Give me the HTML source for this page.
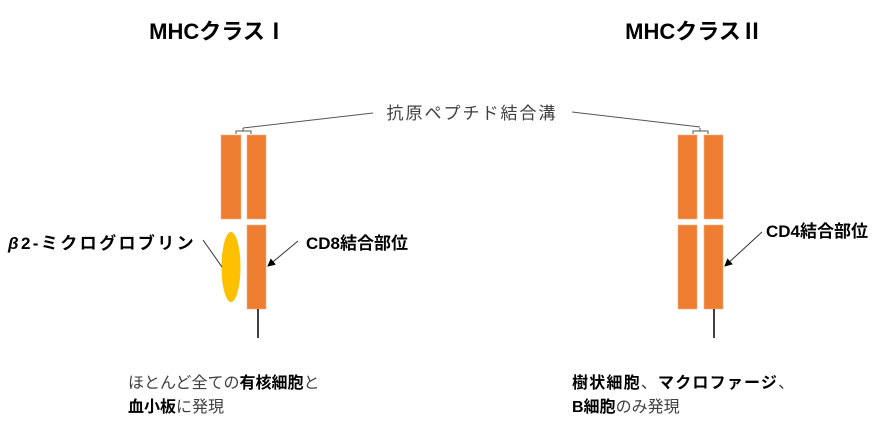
<!DOCTYPE html>
<html><head><meta charset="utf-8"><style>
html,body{margin:0;padding:0;background:#fff;}
svg{display:block;}
text{font-family:"Liberation Sans","Noto Sans CJK JP",sans-serif;}
.b{font-weight:bold;fill:#000;}
.n{fill:#404040;}
</style></head><body>
<svg width="894" height="426" viewBox="0 0 894 426" xmlns="http://www.w3.org/2000/svg">
<defs><marker id="ar" markerWidth="8" markerHeight="8" refX="7" refY="4" orient="auto" markerUnits="userSpaceOnUse"><path d="M0,0 L8,4 L0,8 z" fill="#000"/></marker></defs>
<text x="218" y="39" class="b" font-size="22" text-anchor="middle">MHCクラスⅠ</text>
<text x="694" y="39" class="b" font-size="22" text-anchor="middle">MHCクラスⅡ</text>
<text x="472" y="119" class="n" font-size="17" text-anchor="middle" letter-spacing="2">抗原ペプチド結合溝</text>
<polyline points="373,113 243,128" fill="none" stroke="#555" stroke-width="1"/>
<polyline points="572,112 700,127" fill="none" stroke="#555" stroke-width="1"/>
<path d="M236,134 v-3 h7 v-3 v3 h8 v3" fill="none" stroke="#555" stroke-width="1"/>
<path d="M693,134 v-3 h7 v-3 v3 h8 v3" fill="none" stroke="#555" stroke-width="1"/>
<g fill="#ED7D31" stroke="#F4B183" stroke-width="0.6">
<rect x="221" y="135" width="20" height="84"/>
<rect x="247" y="135" width="19" height="84"/>
<rect x="247" y="225" width="19" height="84"/>
<rect x="678" y="135" width="19" height="84"/>
<rect x="704" y="135" width="19" height="84"/>
<rect x="678" y="225" width="19" height="84"/>
<rect x="704" y="225" width="19" height="84"/>
</g>
<ellipse cx="231" cy="267" rx="9.5" ry="35" fill="#FFC000"/>
<line x1="258" y1="309" x2="258" y2="338" stroke="#000" stroke-width="1.5"/>
<line x1="714" y1="309" x2="714" y2="338" stroke="#000" stroke-width="1.5"/>
<line x1="203" y1="240" x2="222" y2="267" stroke="#333" stroke-width="1"/>
<line x1="298" y1="241" x2="268" y2="266" stroke="#333" stroke-width="1" marker-end="url(#ar)"/>
<line x1="762" y1="232" x2="725" y2="266" stroke="#333" stroke-width="1" marker-end="url(#ar)"/>
<text x="8" y="249" class="b" font-size="17" letter-spacing="2.4"><tspan font-style="italic">β</tspan>2-ミクログロブリン</text>
<text x="306" y="249" class="b" font-size="17">CD8結合部位</text>
<text x="766" y="237" class="b" font-size="17">CD4結合部位</text>
<text x="128" y="388" font-size="16"><tspan class="n">ほとんど全ての</tspan><tspan class="b">有核細胞</tspan><tspan class="n">と</tspan></text>
<text x="128" y="412" font-size="16"><tspan class="b">血小板</tspan><tspan class="n">に発現</tspan></text>
<text x="572" y="388" font-size="16" letter-spacing="1.2"><tspan class="b">樹状細胞</tspan><tspan class="n">、</tspan><tspan class="b">マクロファージ</tspan><tspan class="n">、</tspan></text>
<text x="572" y="412" font-size="16"><tspan class="b">B細胞</tspan><tspan class="n">のみ発現</tspan></text>
</svg>
</body></html>
